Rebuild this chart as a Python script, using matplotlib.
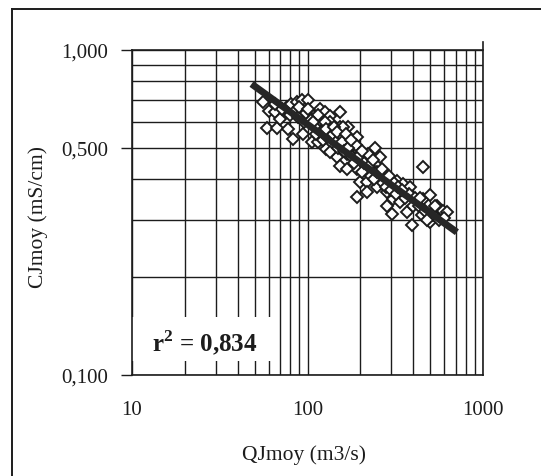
import numpy as np
import matplotlib.pyplot as plt
from matplotlib.lines import Line2D
from matplotlib.patches import Rectangle
from matplotlib.ticker import FixedLocator, NullFormatter

plt.rcParams["font.family"] = ["Liberation Serif", "DejaVu Serif"]
plt.rcParams["mathtext.fontset"] = "custom"
plt.rcParams["mathtext.bf"] = "Liberation Serif:bold"
plt.rcParams["mathtext.rm"] = "Liberation Serif"

INK = "#1c1c1c"

# ------------------------------------------------------------------ data
# daily mean discharge (m3/s) vs daily mean conductivity (mS/cm)
q_obs = [56, 60, 59, 67, 65, 70, 76, 81, 87, 85, 93, 100, 77, 83, 94, 106,
         101, 108, 118, 125, 115, 134, 153, 137, 153, 170, 170, 192, 115, 128,
         147, 168, 192, 218, 243, 259, 213, 227, 192, 199, 218, 192, 218, 250,
         285, 325, 350, 384, 308, 336, 302, 285, 368, 420, 455, 499, 450, 395,
         499, 548, 590, 620, 455, 134, 153, 168, 259,
         72, 80, 88, 95, 98, 105, 110, 112, 120, 122, 130, 140, 145, 150, 158,
         162, 175, 180, 185, 200, 205, 210, 230, 240, 250, 270, 280, 300, 310,
         320, 360, 380, 400, 430, 470, 520, 560, 65, 90, 115, 135, 160, 190, 220,
         100, 108, 125, 128, 142, 148, 165, 170, 178, 195, 205, 225, 235, 265,
         290, 330, 345, 410, 440, 480, 600, 530]
c_obs = [0.690, 0.650, 0.575, 0.575, 0.645, 0.613, 0.667, 0.680, 0.690, 0.650,
         0.700, 0.700, 0.571, 0.532, 0.550, 0.520, 0.650, 0.625, 0.658, 0.645,
         0.600, 0.625, 0.645, 0.571, 0.580, 0.580, 0.532, 0.540, 0.520, 0.496,
         0.470, 0.480, 0.496, 0.470, 0.500, 0.470, 0.440, 0.430, 0.430, 0.393,
         0.393, 0.353, 0.365, 0.380, 0.365, 0.395, 0.387, 0.380, 0.348, 0.340,
         0.313, 0.330, 0.317, 0.340, 0.348, 0.357, 0.310, 0.290, 0.296, 0.330,
         0.320, 0.317, 0.436, 0.485, 0.440, 0.430, 0.410,
         0.660, 0.630, 0.620, 0.600, 0.640, 0.610, 0.580, 0.550, 0.560, 0.530,
         0.540, 0.550, 0.520, 0.500, 0.520, 0.490, 0.500, 0.470, 0.450, 0.460,
         0.420, 0.450, 0.410, 0.400, 0.420, 0.390, 0.380, 0.370, 0.390, 0.360,
         0.350, 0.360, 0.330, 0.330, 0.320, 0.310, 0.300, 0.680, 0.670, 0.630,
         0.600, 0.580, 0.510, 0.480,
         0.660, 0.600, 0.600, 0.570, 0.580, 0.560, 0.550, 0.500, 0.530, 0.470,
         0.490, 0.440, 0.460, 0.430, 0.410, 0.380, 0.370, 0.350, 0.350, 0.300,
         0.305, 0.330]

# power-law fit, end points of the drawn regression line
fit_q = [48, 710]
fit_c = [0.786, 0.275]
r2_text = r"r$^{\mathbf{2}}$ = 0,834"

y_major = [0.1, 0.5, 1.0]
y_labels = ["0,100", "0,500", "1,000"]
x_major = [10, 100, 1000]
x_labels = ["10", "100", "1000"]

# ------------------------------------------------------------------ figure
fig = plt.figure(figsize=(5.41, 4.77), dpi=100)
W, H = 541, 477
ax = fig.add_axes([132 / W, 1 - 376 / H, 351 / W, 325 / H])
ax.set_xscale("log")
ax.set_yscale("log")
ax.set_xlim(10, 1000)
ax.set_ylim(0.1, 1.0)
ax.set_axisbelow(True)

ax.xaxis.set_major_locator(FixedLocator(x_major))
ax.xaxis.set_minor_locator(FixedLocator([k * d for d in (10, 100) for k in range(2, 10)]))
ax.set_xticklabels(x_labels)
ax.xaxis.set_minor_formatter(NullFormatter())
ax.yaxis.set_major_locator(FixedLocator(y_major))
ax.yaxis.set_minor_locator(FixedLocator([k / 10 for k in range(2, 10)]))
ax.set_yticklabels(y_labels)
ax.yaxis.set_minor_formatter(NullFormatter())

ax.grid(True, which="both", color=INK, lw=1.0)
ax.tick_params(axis="x", which="both", length=0, pad=18, labelsize=15, colors=INK)
ax.tick_params(axis="y", which="major", length=8, width=1.0, pad=9, labelsize=15, colors=INK)
ax.tick_params(axis="y", which="minor", length=0)
for side in ax.spines.values():
    side.set_color(INK)
    side.set_linewidth(1.2)
ax.spines["right"].set_bounds(0.1, 1.06)

# white box behind the r2 annotation
ax.add_patch(Rectangle((0, 0.043), 0.405, 0.137, transform=ax.transAxes,
                       facecolor="white", edgecolor="none", zorder=1))
ax.text(0.208, 0.10, r2_text, transform=ax.transAxes, ha="center", va="center",
        fontsize=18, fontweight="bold", color=INK, zorder=4)

ax.plot(q_obs, c_obs, ls="none", marker="D", ms=6.3, mfc="white", mec=INK,
        mew=1.4, zorder=2)
ax.plot(fit_q, fit_c, color="#262626", lw=5.0, solid_capstyle="butt", zorder=3)

fig.text(38 / W, 1 - 217 / H, "CJmoy (mS/cm)", rotation=90, ha="center",
         va="center", fontsize=15.5, color=INK)
fig.text(304 / W, 1 - 455 / H, "QJmoy (m3/s)", ha="center", va="center",
         fontsize=15.5, color=INK)

# scanned page frame (top and left edges only)
fig.add_artist(Line2D([12 / W, 1.0], [1 - 10 / H, 1 - 10 / H], color=INK, lw=1.4))
fig.add_artist(Line2D([12 / W, 12 / W], [0.0, 1 - 10 / H], color=INK, lw=1.4))

fig.savefig("out.png", dpi=100)
